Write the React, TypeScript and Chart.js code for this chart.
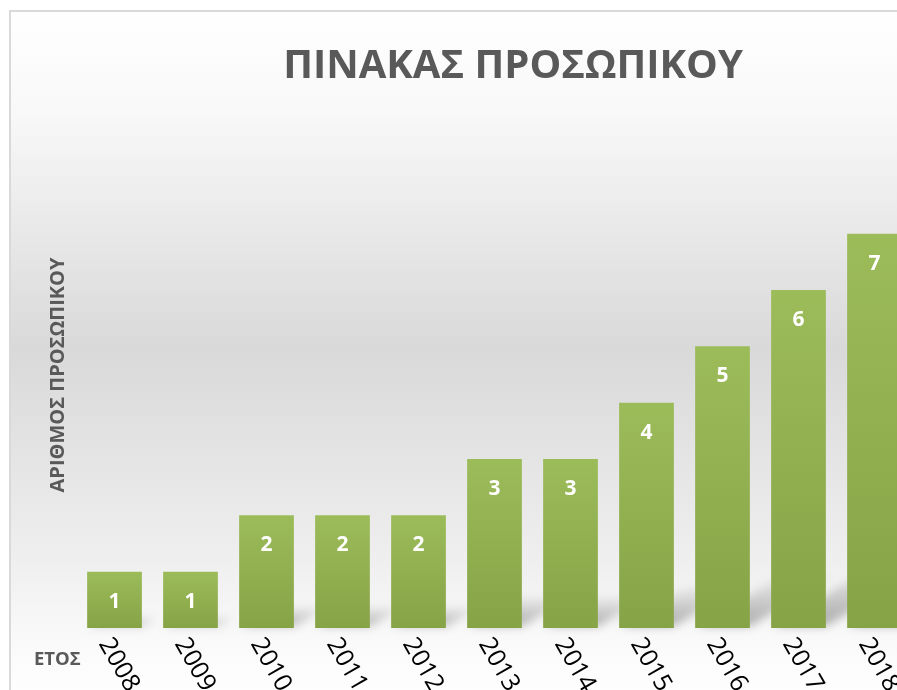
import React, { useEffect, useRef } from "react";
import { Chart, registerables } from "chart.js";

Chart.register(...registerables);

const TITLE = "ΠΙΝΑΚΑΣ ΠΡΟΣΩΠΙΚΟΥ";
const Y_TITLE = "ΑΡΙΘΜΟΣ ΠΡΟΣΩΠΙΚΟΥ";
const X_TITLE = "ΕΤΟΣ";
const YEARS = ["2008", "2009", "2010", "2011", "2012", "2013", "2014", "2015", "2016", "2017", "2018"];
const STAFF = [1, 1, 2, 2, 2, 3, 3, 4, 5, 6, 7];
const Y_MIN = 0;
const Y_MAX = 9;

const FONT = '"Open Sans", "DejaVu Sans", sans-serif';

const decorPlugin = {
  id: "decor",
  beforeDraw(chart: any) {
    const { ctx, width, height } = chart;
    ctx.save();
    const g = ctx.createLinearGradient(0, 10, 0, 700);
    g.addColorStop(0, "#ffffff");
    g.addColorStop(0.15, "#f8f8f8");
    g.addColorStop(0.49, "#d9d9d9");
    g.addColorStop(0.8, "#efefef");
    g.addColorStop(0.92, "#fafafa");
    g.addColorStop(1, "#ffffff");
    ctx.fillStyle = g;
    ctx.fillRect(10, 11, width - 20, height);
    ctx.strokeStyle = "#d9d9d9";
    ctx.lineWidth = 2;
    ctx.strokeRect(10, 11, width - 20, height + 20);

    // title
    ctx.fillStyle = "#595959";
    ctx.font = `bold 40px ${FONT}`;
    ctx.textAlign = "center";
    ctx.textBaseline = "alphabetic";
    ctx.fillText(TITLE, 513, 78);

    // y title
    ctx.save();
    ctx.translate(58, 375);
    ctx.rotate(-Math.PI / 2);
    ctx.font = `bold 20px ${FONT}`;
    ctx.textAlign = "center";
    ctx.textBaseline = "middle";
    ctx.fillText(Y_TITLE, 0, 0);
    ctx.restore();

    // x title
    ctx.font = `bold 18.5px ${FONT}`;
    ctx.textAlign = "left";
    ctx.textBaseline = "middle";
    ctx.fillText(X_TITLE, 34, 660);
    ctx.restore();
  },
  beforeDatasetsDraw(chart: any) {
    const { ctx } = chart;
    const meta = chart.getDatasetMeta(0);
    ctx.save();
    ctx.filter = "blur(5px)";
    meta.data.forEach((bar: any) => {
      const x0 = bar.x - bar.width / 2;
      const x1 = bar.x + bar.width / 2;
      const base = bar.base;
      const h = base - bar.y;
      const dx = 0.3 * h;
      const dy = 0.18 * h;
      const g = ctx.createLinearGradient(0, base, 0, base - dy);
      g.addColorStop(0, "rgba(0,0,0,0.32)");
      g.addColorStop(1, "rgba(0,0,0,0.03)");
      ctx.fillStyle = g;
      ctx.beginPath();
      ctx.moveTo(x0 + 2, base - 2);
      ctx.lineTo(x1, base - 2);
      ctx.lineTo(x1 + dx, base - dy);
      ctx.lineTo(x0 + dx, base - dy);
      ctx.closePath();
      ctx.fill();
    });
    ctx.restore();
  },
  afterDatasetsDraw(chart: any) {
    const { ctx } = chart;
    const meta = chart.getDatasetMeta(0);
    const xs = chart.scales.x;
    ctx.save();
    ctx.fillStyle = "#ffffff";
    ctx.font = `bold 21px ${FONT}`;
    ctx.textAlign = "center";
    ctx.textBaseline = "middle";
    meta.data.forEach((bar: any, i: number) => {
      ctx.fillText(String(STAFF[i]), bar.x, bar.y + 30);
    });
    ctx.fillStyle = "#000000";
    ctx.font = `25px ${FONT}`;
    ctx.textAlign = "left";
    ctx.textBaseline = "middle";
    YEARS.forEach((lab, i) => {
      const x = xs.getPixelForValue(i);
      ctx.save();
      ctx.translate(x - 10, 640);
      ctx.rotate((60 * Math.PI) / 180);
      ctx.fillText(lab, 0, 0);
      ctx.restore();
    });
    ctx.restore();
  },
};

export default function App() {
  const ref = useRef<HTMLCanvasElement>(null);
  useEffect(() => {
    if (!ref.current) return;
    const chart = new Chart(ref.current, {
      type: "bar",
      data: {
        labels: YEARS,
        datasets: [
          {
            label: Y_TITLE,
            data: STAFF,
            backgroundColor: (c: any) => {
              const ch = c.chart;
              const ys = ch.scales && ch.scales.y;
              if (!ys || c.dataIndex === undefined) return "#92b050";
              const v = STAFF[c.dataIndex];
              const top = ys.getPixelForValue(v);
              const bot = ys.getPixelForValue(0);
              if (!Number.isFinite(top) || !Number.isFinite(bot) || top === bot) return "#92b050";
              const g = ch.ctx.createLinearGradient(0, top, 0, bot);
              g.addColorStop(0, "#9cbb59");
              g.addColorStop(1, "#86a446");
              return g;
            },
            borderWidth: 0,
            barPercentage: 0.72,
            categoryPercentage: 1,
          },
        ],
      },
      options: {
        animation: false,
        responsive: false,
        devicePixelRatio: 1,
        layout: { padding: { left: 76.5, right: 113.5, top: 121, bottom: 62 } },
        plugins: { legend: { display: false }, tooltip: { enabled: false }, title: { display: false } },
        scales: {
          x: { display: false, grid: { display: false } },
          y: { display: false, min: Y_MIN, max: Y_MAX, grid: { display: false } },
        },
      },
      plugins: [decorPlugin],
    });
    return () => chart.destroy();
  }, []);
  return (
    <div style={{ position: "fixed", left: 0, top: 0, width: 897, height: 690, overflow: "hidden" }}>
      <canvas ref={ref} width={1026} height={690} style={{ display: "block" }} />
    </div>
  );
}
